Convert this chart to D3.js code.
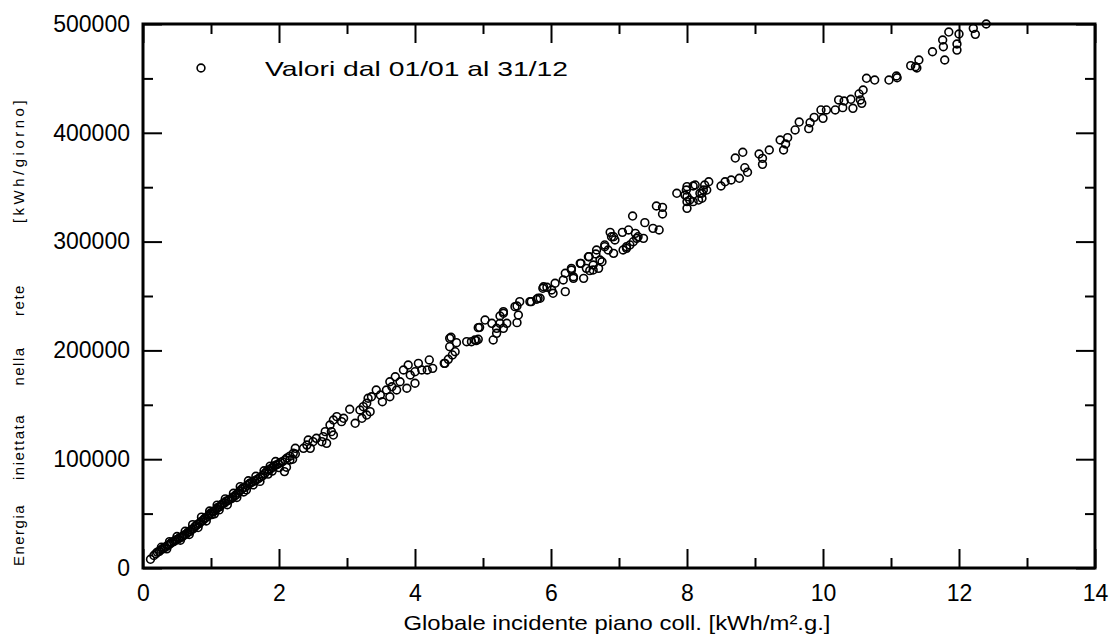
<!DOCTYPE html>
<html>
<head>
<meta charset="utf-8">
<script src="https://cdn.jsdelivr.net/npm/d3@7"></script>
<style>
  body { margin: 0; background: #fff; }
  text { font-family: "Liberation Sans", Arial, sans-serif; fill: #000; }
</style>
</head>
<body>
<svg id="chart" width="1111" height="637"></svg>
<script>
// daily values: [globale incidente kWh/m2.g, energia iniettata kWh/giorno]
const lowDays = [
  [0.11, 8000], [0.16, 11500], [0.19, 13200], [0.21, 14600], [0.24, 15300], [0.26, 16800],
  [0.27, 19100], [0.29, 17500], [0.31, 18900], [0.33, 19200], [0.35, 17600], [0.36, 20600],
  [0.38, 21400], [0.39, 24200], [0.40, 22300], [0.42, 23500], [0.45, 24100], [0.47, 25200],
  [0.49, 26000], [0.50, 28900], [0.52, 26800], [0.54, 27900], [0.55, 25500], [0.57, 28300],
  [0.59, 29600], [0.61, 30400], [0.62, 33800], [0.64, 31500], [0.66, 32900], [0.68, 30800],
  [0.69, 33600], [0.71, 35100], [0.73, 39800], [0.74, 36200], [0.76, 37800], [0.78, 38900],
  [0.80, 40100], [0.81, 37200], [0.83, 41000], [0.85, 42600], [0.86, 46700], [0.88, 43800],
  [0.90, 45200], [0.92, 46100], [0.93, 43200], [0.95, 47300], [0.97, 48900], [0.98, 52400],
  [0.99, 50300], [1.01, 49100], [1.03, 51800], [1.05, 49800], [1.06, 52600], [1.08, 54200],
  [1.09, 57800], [1.10, 55700], [1.12, 53400], [1.13, 56300], [1.15, 57900], [1.17, 59100],
  [1.20, 59800], [1.21, 63500], [1.22, 61300], [1.24, 58200], [1.25, 62000], [1.27, 62900],
  [1.30, 63800], [1.32, 65100], [1.33, 68700], [1.35, 66200], [1.37, 67400], [1.38, 64800],
  [1.40, 68900], [1.42, 70800], [1.43, 74800], [1.45, 72300], [1.47, 73600], [1.48, 69900],
  [1.50, 74100], [1.52, 71800], [1.53, 75900], [1.55, 80200], [1.56, 77300], [1.58, 78200],
  [1.61, 79000], [1.62, 76400], [1.64, 80100], [1.66, 84300], [1.67, 81200], [1.70, 82300],
  [1.72, 79600], [1.73, 83600], [1.76, 84900], [1.78, 89400], [1.79, 86800], [1.82, 88900],
  [1.84, 86300], [1.85, 90200], [1.87, 93600], [1.88, 91300], [1.90, 89100], [1.91, 92700],
  [1.93, 93900], [1.95, 97900], [1.96, 94800], [1.99, 95600], [2.00, 92300], [2.02, 96900],
  [2.05, 97800], [2.08, 88600], [2.09, 99500], [2.11, 92600], [2.12, 101200], [2.16, 102800],
  [2.20, 100000], [2.21, 105400], [2.24, 104800], [2.24, 110000], [2.16, 99300]
];
const midDays = [
  [2.36, 110000], [2.41, 113000], [2.43, 117600], [2.46, 110000], [2.50, 116100], [2.55, 119200],
  [2.63, 116100], [2.65, 120700], [2.68, 125300], [2.70, 114600], [2.75, 131400], [2.77, 125300],
  [2.80, 122200], [2.80, 136000], [2.85, 139100], [2.92, 134500], [2.95, 137600], [3.04, 145900],
  [3.12, 133000], [3.19, 145200], [3.22, 137600], [3.24, 148300], [3.29, 140600], [3.29, 151400],
  [3.31, 156000], [3.34, 143700], [3.36, 157400], [3.43, 163600], [3.49, 159000], [3.52, 152800],
  [3.58, 163600], [3.63, 157400], [3.63, 171200], [3.66, 166600], [3.71, 175800], [3.73, 163600],
  [3.78, 171200], [3.83, 182000], [3.88, 165200], [3.90, 186600], [3.93, 177400], [4.00, 169800],
  [4.00, 180400], [4.05, 188100], [4.10, 182000], [4.18, 182000], [4.21, 191200], [4.26, 183500],
  [4.43, 188100], [4.44, 188100], [4.49, 191800], [4.51, 203400], [4.51, 211100], [4.53, 212100],
  [4.55, 195800], [4.59, 198800], [4.61, 207100], [4.76, 208000], [4.83, 208000], [4.88, 209600],
  [4.90, 209000], [4.93, 210200], [4.93, 220900], [4.95, 221200], [5.03, 227900], [5.13, 224900],
  [5.15, 209600], [5.20, 215700], [5.20, 220300], [5.25, 224900], [5.25, 231600], [5.30, 220300],
  [5.30, 234100], [5.30, 235600], [5.35, 224900], [5.47, 240200], [5.50, 225500], [5.50, 240800],
  [5.52, 232500], [5.54, 244800], [5.69, 244800], [5.71, 244800], [5.79, 247000], [5.81, 247900],
  [5.84, 247900], [5.88, 257100], [5.89, 258500], [5.94, 258000], [6.01, 255500], [6.03, 252500],
  [6.06, 261700], [6.18, 264700], [6.21, 254000], [6.21, 270900], [6.30, 273900], [6.30, 275400],
  [6.33, 266200], [6.33, 267700], [6.43, 280000], [6.44, 280000], [6.48, 266200], [6.52, 275400],
  [6.55, 286100], [6.56, 286100], [6.57, 273300], [6.62, 273900], [6.62, 278500], [6.66, 288600],
  [6.67, 292300], [6.70, 275400], [6.72, 283100], [6.75, 281500], [6.79, 295300], [6.79, 296900],
  [6.84, 292300], [6.87, 308500], [6.89, 304500], [6.92, 289200], [6.92, 304500], [6.94, 301500],
  [7.05, 308500], [7.06, 292300], [7.11, 293800], [7.11, 295300], [7.14, 310700], [7.16, 296900],
  [7.20, 323500], [7.21, 299900], [7.24, 307600], [7.26, 303000], [7.28, 304500], [7.36, 303000]
];
const highDays = [
  [7.38, 317400], [7.50, 312200], [7.55, 332700], [7.59, 310700], [7.64, 331500], [7.64, 325400],
  [7.85, 344400], [7.97, 342800], [7.99, 347400], [8.00, 330600], [8.00, 336700], [8.00, 341300],
  [8.00, 350500], [8.04, 338200], [8.09, 351100], [8.09, 336700], [8.12, 352000], [8.17, 338200],
  [8.19, 344400], [8.22, 339800], [8.22, 344400], [8.24, 347400], [8.26, 352000], [8.29, 347400],
  [8.32, 355000], [8.50, 351100], [8.56, 355000], [8.65, 356600], [8.71, 376800], [8.77, 358200],
  [8.82, 382100], [8.85, 367900], [8.89, 363700], [9.06, 380500], [9.11, 376500], [9.11, 371000],
  [9.21, 384200], [9.37, 393400], [9.42, 384200], [9.45, 389700], [9.48, 395500], [9.59, 402600],
  [9.65, 409900], [9.79, 403800], [9.81, 409300], [9.87, 414200], [9.97, 421000], [10.00, 413300],
  [10.05, 421000], [10.18, 421000], [10.23, 430200], [10.29, 423100], [10.31, 429200], [10.41, 430800],
  [10.44, 422500], [10.53, 435700], [10.55, 430200], [10.57, 427100], [10.59, 439300], [10.64, 450100],
  [10.76, 448500], [10.97, 448500], [11.08, 452200], [11.09, 450600], [11.29, 461700], [11.36, 460700],
  [11.38, 459600], [11.41, 466900], [11.61, 474500], [11.76, 485300], [11.77, 479100], [11.79, 466900],
  [11.85, 492600], [11.97, 481600], [11.97, 476000], [12.00, 490800], [12.21, 496000], [12.24, 490500],
  [12.40, 500000]
];
const days = lowDays.concat(midDays, highDays);

const xMajor = [0, 2, 4, 6, 8, 10, 12, 14];
const xMinor = [1, 3, 5, 7, 9, 11, 13];
const yMajor = [0, 100000, 200000, 300000, 400000, 500000];
const yMinor = [50000, 150000, 250000, 350000, 450000];
const xTitle = "Globale incidente piano coll. [kWh/m\u00b2.g.]";
const yWords = ["Energia", "iniettata", "nella", "rete", "[kWh/giorno]"];
const legendText = "Valori dal 01/01 al 31/12";

const svg = d3.select("#chart");
const plotL = 143, plotR = 1095, plotT = 24, plotB = 568;
const majLen = 19, minLen = 10;

const x = d3.scaleLinear().domain([0, 14]).range([plotL, plotR]);
const y = d3.scaleLinear().domain([0, 500000]).range([plotB, plotT]);

// points
svg.append("g")
  .selectAll("circle")
  .data(days)
  .join("circle")
  .attr("cx", d => x(d[0]))
  .attr("cy", d => y(d[1]))
  .attr("r", 3.9)
  .attr("fill", "none")
  .attr("stroke", "#000")
  .attr("stroke-width", 1.6);

// tick labels through d3 axes
function labelsOnly(g) {
  g.select(".domain").remove();
  g.selectAll(".tick line").remove();
  g.selectAll(".tick text").attr("font-size", 23).attr("fill", "#000")
    .attr("font-family", "Liberation Sans, Arial, sans-serif");
}
svg.append("g").attr("transform", `translate(0,${plotB})`)
  .call(d3.axisBottom(x).tickValues(xMajor).tickSize(0).tickPadding(17).tickFormat(d3.format("d")))
  .call(labelsOnly);
svg.append("g").attr("transform", `translate(${plotL},0)`)
  .call(d3.axisLeft(y).tickValues(yMajor).tickSize(0).tickPadding(13).tickFormat(d3.format("d")))
  .call(labelsOnly);

// inward tick marks: mirrored axes so that positive tick sizes point into the plot
function marksOnly(g) {
  g.select(".domain").remove();
  g.selectAll(".tick text").remove();
  g.selectAll(".tick line").attr("stroke", "#000").attr("stroke-width", 2);
}
const markSets = [
  [d3.axisTop, x, xMajor, majLen, `translate(0,${plotB})`],
  [d3.axisTop, x, xMinor, minLen, `translate(0,${plotB})`],
  [d3.axisBottom, x, xMajor, majLen, `translate(0,${plotT})`],
  [d3.axisBottom, x, xMinor, minLen, `translate(0,${plotT})`],
  [d3.axisRight, y, yMajor, majLen, `translate(${plotL},0)`],
  [d3.axisRight, y, yMinor, minLen, `translate(${plotL},0)`],
  [d3.axisLeft, y, yMajor, majLen, `translate(${plotR},0)`],
  [d3.axisLeft, y, yMinor, minLen, `translate(${plotR},0)`]
];
markSets.forEach(([axisFn, scale, vals, len, tr]) => {
  svg.append("g").attr("transform", tr)
    .call(axisFn(scale).tickValues(vals).tickSize(len).tickFormat(""))
    .call(marksOnly);
});

// frame
svg.append("rect")
  .attr("x", plotL).attr("y", plotT)
  .attr("width", plotR - plotL).attr("height", plotB - plotT)
  .attr("fill", "none").attr("stroke", "#000").attr("stroke-width", 3);

// legend
svg.append("circle")
  .attr("cx", 201).attr("cy", 68).attr("r", 3.9)
  .attr("fill", "none").attr("stroke", "#000").attr("stroke-width", 1.6);
svg.append("text")
  .attr("x", 265).attr("y", 76)
  .attr("font-size", 21)
  .attr("textLength", 303).attr("lengthAdjust", "spacingAndGlyphs")
  .text(legendText);

// x title
svg.append("text")
  .attr("x", 617).attr("y", 630)
  .attr("text-anchor", "middle")
  .attr("font-size", 21)
  .attr("textLength", 427).attr("lengthAdjust", "spacingAndGlyphs")
  .text(xTitle);

// y title: words spread along the axis (centre of each word)
const yWordPos = [535, 447, 366, 300, 160];
const yWordGap = [1.5, 1.5, 1.5, 1.5, 3.5];
const yt = svg.append("g").attr("transform", "translate(24,0) rotate(-90)");
yWords.forEach((w, i) => {
  yt.append("text")
    .attr("x", -yWordPos[i]).attr("y", 0)
    .attr("text-anchor", "middle")
    .attr("font-size", 15)
    .attr("letter-spacing", yWordGap[i])
    .text(w);
});
</script>
</body>
</html>
